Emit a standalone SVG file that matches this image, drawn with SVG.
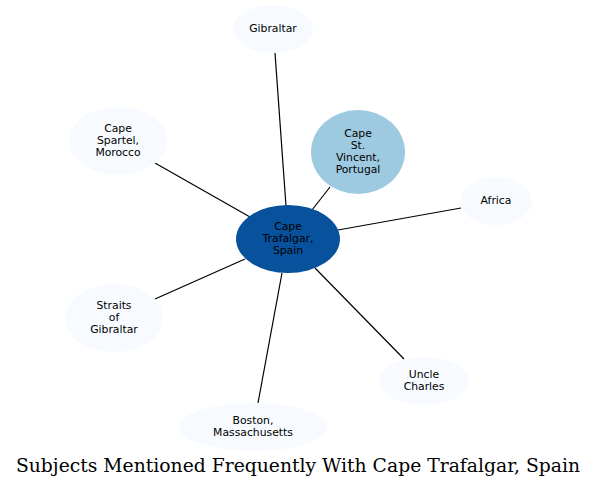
<svg xmlns="http://www.w3.org/2000/svg" width="597" height="488" viewBox="0 0 597 488">
<style>
.n text{font-family:"DejaVu Sans",sans-serif;font-size:10.8px;text-anchor:middle;fill:#000}
.light{fill:#f7fbff}
.e line{stroke:#000;stroke-width:1.2}
.title{font-family:"DejaVu Serif",serif;font-size:18.75px;text-anchor:middle;fill:#000}
</style>
<rect width="597" height="488" fill="#fff"/>
<g class="e">
<line x1="275" y1="53" x2="286" y2="206"/>
<line x1="330" y1="187" x2="312" y2="210"/>
<line x1="461" y1="208" x2="338" y2="230"/>
<line x1="155" y1="163" x2="250" y2="217"/>
<line x1="155" y1="299" x2="245" y2="259"/>
<line x1="404" y1="359" x2="315" y2="268"/>
<line x1="258" y1="403" x2="282" y2="273"/>
</g>
<g id="center" class="n"><ellipse cx="288" cy="239" rx="52" ry="34" fill="#08519c"/><text x="288" y="230">Cape</text><text x="288" y="242">Trafalgar,</text><text x="288" y="254">Spain</text></g>
<g id="gibraltar" class="n"><ellipse class="light" cx="273" cy="29" rx="40" ry="24"/><text x="273" y="32">Gibraltar</text></g>
<g id="stvincent" class="n"><ellipse cx="358" cy="152" rx="47" ry="42" fill="#9ecae1"/><text x="358" y="137">Cape</text><text x="358" y="149">St.</text><text x="358" y="161">Vincent,</text><text x="358" y="173">Portugal</text></g>
<g id="africa" class="n"><ellipse class="light" cx="496" cy="201" rx="36" ry="24"/><text x="496" y="204">Africa</text></g>
<g id="spartel" class="n"><ellipse class="light" cx="118" cy="141" rx="49" ry="34"/><text x="118" y="132">Cape</text><text x="118" y="144">Spartel,</text><text x="118" y="156">Morocco</text></g>
<g id="straits" class="n"><ellipse class="light" cx="114" cy="318" rx="49" ry="34"/><text x="114" y="309">Straits</text><text x="114" y="321">of</text><text x="114" y="333">Gibraltar</text></g>
<g id="uncle" class="n"><ellipse class="light" cx="424" cy="381" rx="45" ry="24"/><text x="424" y="378">Uncle</text><text x="424" y="390">Charles</text></g>
<g id="boston" class="n"><ellipse class="light" cx="253" cy="427" rx="74" ry="24"/><text x="253" y="424">Boston,</text><text x="253" y="436">Massachusetts</text></g>
<text class="title" x="298" y="472">Subjects Mentioned Frequently With Cape Trafalgar, Spain</text>
</svg>
